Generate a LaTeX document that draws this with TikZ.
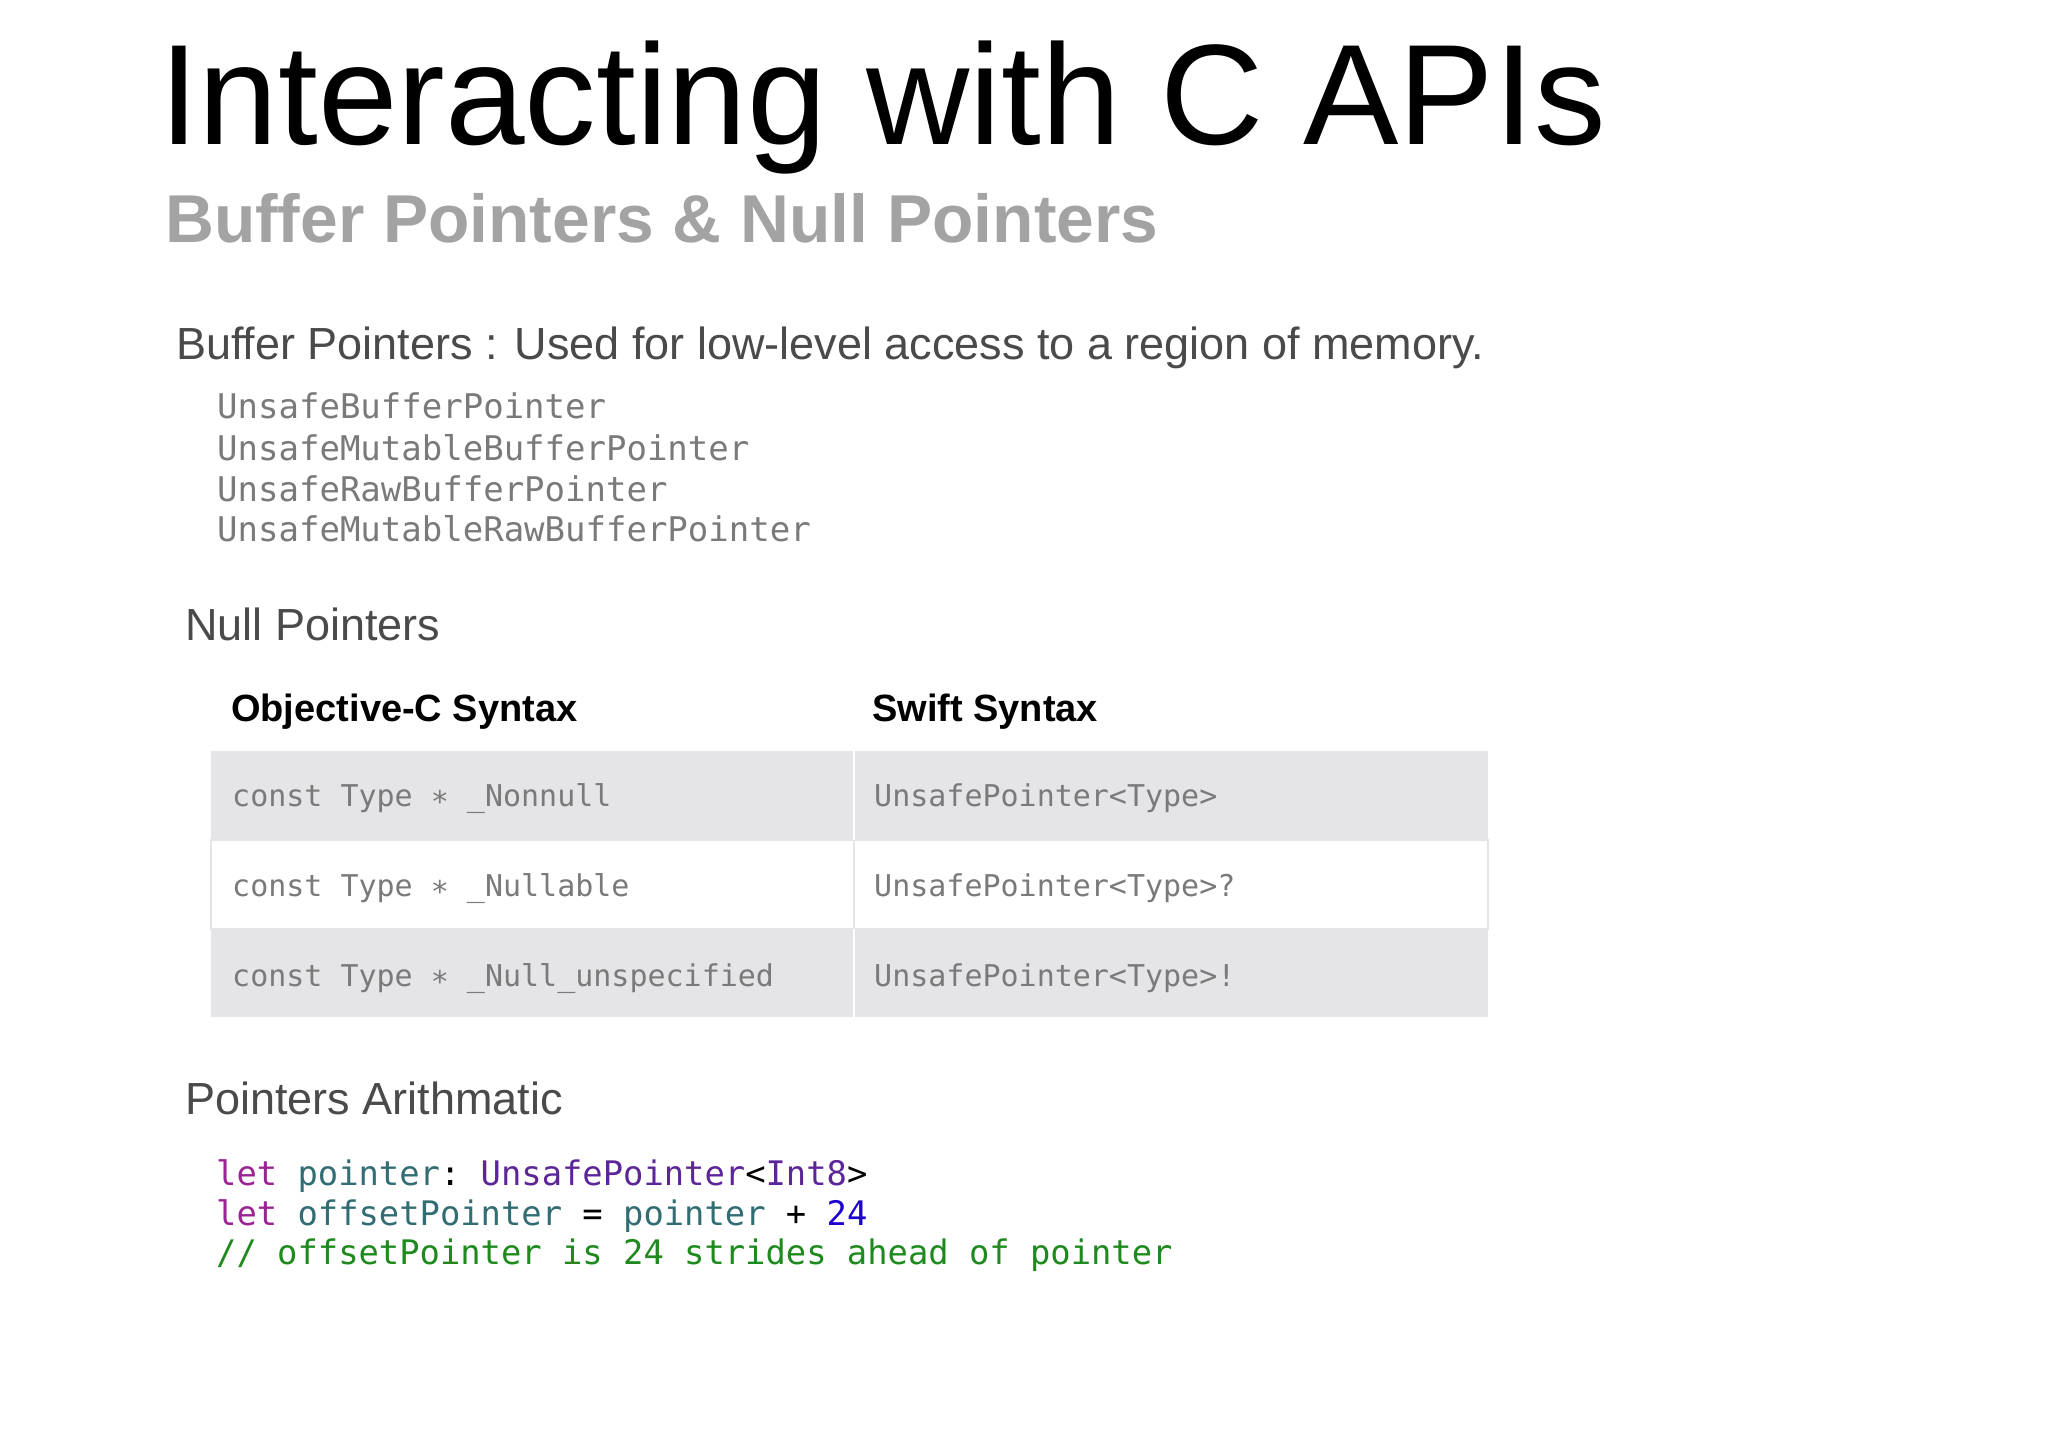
\documentclass[tikz,border=0pt]{standalone}
\usepackage{fontspec}
\setmainfont{Liberation Sans}
\setmonofont{DejaVu Sans Mono}
\definecolor{subgray}{HTML}{A3A3A3}
\definecolor{txtgray}{HTML}{4A4A4A}
\definecolor{codegray}{HTML}{7A7A7A}
\definecolor{rowgray}{HTML}{E5E5E7}
\definecolor{kw}{HTML}{9B2393}
\definecolor{ident}{HTML}{326D74}
\definecolor{typ}{HTML}{5C2699}
\definecolor{num}{HTML}{1C00CF}
\definecolor{cmt}{HTML}{1E8A1E}
\newcommand{\fs}[1]{\fontsize{#1}{#1}\selectfont}
\begin{document}
\begin{tikzpicture}[x=1pt,y=-1pt,
  txt/.style={anchor=base west,inner sep=0pt},
  cell/.style={txt,font=\ttfamily\fs{30},text=codegray}]
\useasboundingbox[fill=white] (0,0) rectangle (2048,1448);
\node[txt,font=\fs{143}] (title) at (159,144) {Interacting with C APIs};
\node[txt,font=\bfseries\fs{67.7},text=subgray] (sub) at (165,242) {Buffer Pointers \& Null Pointers};
\node[txt,font=\fs{45},text=txtgray] (bp) at (176,359) {Buffer Pointers : Used for low-level access to a region of memory.};
\node[txt,font=\ttfamily\fs{34},text=codegray] (l1) at (217,418) {UnsafeBufferPointer};
\node[txt,font=\ttfamily\fs{34},text=codegray] (l2) at (217,460) {UnsafeMutableBufferPointer};
\node[txt,font=\ttfamily\fs{34},text=codegray] (l3) at (217,501) {UnsafeRawBufferPointer};
\node[txt,font=\ttfamily\fs{34},text=codegray] (l4) at (217,541) {UnsafeMutableRawBufferPointer};
\node[txt,font=\fs{45},text=txtgray] (np) at (185,640) {Null Pointers};
\node[txt,font=\bfseries\fs{38}] (h1) at (231,721) {Objective-C Syntax};
\node[txt,font=\bfseries\fs{38}] (h2) at (872,721) {Swift Syntax};
% table
\fill[rowgray] (211,751) rectangle (1488,840);
\fill[rowgray] (211,929) rectangle (1488,1017);
\draw[rowgray,line width=1.5pt] (211,840) rectangle (1488,929);
\draw[white,line width=2pt] (854,751) -- (854,840) (854,929) -- (854,1017);
\draw[rowgray,line width=2pt] (854,840) -- (854,929);
\node[cell] (a1) at (232,806) {const Type ∗ \_Nonnull};
\node[cell] (b1) at (874,806) {UnsafePointer<Type>};
\node[cell] (a2) at (232,896) {const Type ∗ \_Nullable};
\node[cell] (b2) at (874,896) {UnsafePointer<Type>?};
\node[cell] (a3) at (232,986) {const Type ∗ \_Null\_unspecified};
\node[cell] (b3) at (874,986) {UnsafePointer<Type>!};
\node[txt,font=\fs{45},text=txtgray] (pa) at (185,1114) {Pointers Arithmatic};
\node[txt,font=\ttfamily\fs{33.8}] (c1) at (216,1185) {\textcolor{kw}{let} \textcolor{ident}{pointer}: \textcolor{typ}{UnsafePointer}<\textcolor{typ}{Int8}>};
\node[txt,font=\ttfamily\fs{33.8}] (c2) at (216,1225) {\textcolor{kw}{let} \textcolor{ident}{offsetPointer} = \textcolor{ident}{pointer} + \textcolor{num}{24}};
\node[txt,font=\ttfamily\fs{33.8},text=cmt] (c3) at (216,1264) {// offsetPointer is 24 strides ahead of pointer};
\end{tikzpicture}
\end{document}
